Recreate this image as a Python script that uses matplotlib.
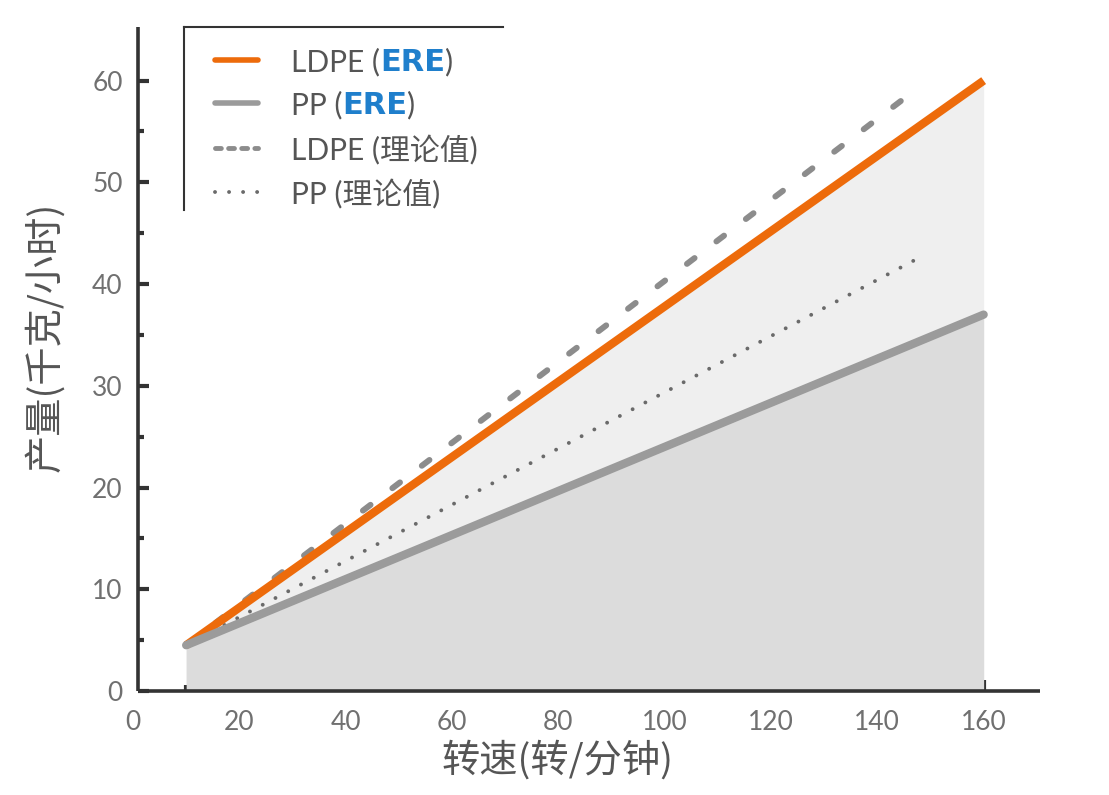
import matplotlib
matplotlib.use("Agg")
import matplotlib.pyplot as plt
from matplotlib.lines import Line2D
from matplotlib.ticker import FixedLocator

plt.rcParams['font.family'] = ['Noto Sans CJK SC', 'DejaVu Sans']

# ---- data ----
rpm_ere = [10, 160]
ldpe_ere = [4.5, 60]
pp_ere = [4.5, 37]
rpm_ldpe_theory = [10, 147.7]
ldpe_theory = [4.5, 59.3]
rpm_pp_theory = [10, 149]
pp_theory = [4.5, 42.9]

x_ticks = [0, 20, 40, 60, 80, 100, 120, 140, 160]
x_minor = [10, 30, 50, 70, 90, 110, 130, 150]
y_ticks = [0, 10, 20, 30, 40, 50, 60]
y_minor = [5, 15, 25, 35, 45, 55]
x_label = '转速(转/分钟)'
y_label = '产量(千克/小时)'
legend_names = ['LDPE (', 'PP (', 'LDPE (理论值)', 'PP (理论值)']

ORANGE = '#ED6B0B'
GRAY = '#9B9B9B'
DASH = '#8C8C8C'
DOT = '#6A6A6A'
BLUE = '#1F7FCC'
DARK = '#333333'
TXT = '#555555'
LAT_FONT = ['Lato', 'Noto Sans CJK SC', 'DejaVu Sans']

W, H = 1109, 795
fig = plt.figure(figsize=(W / 100, H / 100), dpi=100)
ax = fig.add_axes([133 / W, 1 - 691 / H, 907 / W, 664.3 / H])


def fx(px):
    return px / W


def fy(py):
    return 1 - py / H


ax.fill_between(rpm_ere, 0, ldpe_ere, color='#EFEFEF', lw=0, zorder=1)
ax.fill_between(rpm_ere, 0, pp_ere, color='#DCDCDC', lw=0, zorder=2)

ax.plot(rpm_pp_theory, pp_theory, color=DOT, lw=2.8, dashes=(0.01, 3.7),
        dash_capstyle='round', zorder=3)
ax.plot(rpm_ldpe_theory, ldpe_theory, color=DASH, lw=4.3, dashes=(1.6, 4.6),
        dash_capstyle='round', zorder=3)
ax.plot(rpm_ere, ldpe_ere, color=ORANGE, lw=6, solid_capstyle='butt', zorder=4)
ax.plot(rpm_ere, pp_ere, color=GRAY, lw=6, solid_capstyle='round', zorder=5)

ax.set_xlim(0, 170.6)
ax.set_ylim(0, 65.3)
for s in ['top', 'right']:
    ax.spines[s].set_visible(False)
for s in ['left', 'bottom']:
    ax.spines[s].set_linewidth(2.6)
    ax.spines[s].set_color(DARK)
    ax.spines[s].set_capstyle('butt')
ax.spines['left'].set_position(('data', 0.94))
ax.spines['bottom'].set_bounds(0.94, 170.6)

ax.set_xticks(x_ticks)
ax.set_yticks(y_ticks)
ax.xaxis.set_minor_locator(FixedLocator(x_minor))
ax.yaxis.set_minor_locator(FixedLocator(y_minor))
ax.tick_params(which='major', direction='in', length=8, width=3, color=DARK,
               labelsize=19, labelcolor='#707070')
ax.tick_params(which='minor', direction='in', length=4, width=3, color=DARK)
ax.tick_params(axis='x', which='both', pad=14)
ax.tick_params(axis='y', which='both', pad=11)
ax.xaxis.get_major_ticks()[0].tick1line.set_visible(False)
for lab in ax.get_xticklabels() + ax.get_yticklabels():
    lab.set_family(LAT_FONT)

fig.text(fx(557), fy(761), x_label, fontsize=27.5, color=TXT,
         ha='center', va='center')
fig.text(fx(45), fy(337), y_label, fontsize=27.5, color=TXT,
         ha='center', va='center', rotation=90)

# ---- manual legend ----
tf = fig.transFigure
rows = [60, 103, 148, 192]
styles = [
    dict(color=ORANGE, lw=4, solid_capstyle='round'),
    dict(color=GRAY, lw=4, solid_capstyle='round'),
    dict(color=DASH, lw=3.5, dashes=(1.2, 1.5), dash_capstyle='round'),
    dict(color=DOT, lw=2.8, dashes=(0.01, 3.6), dash_capstyle='round'),
]
for i, (py, st) in enumerate(zip(rows, styles)):
    fig.add_artist(Line2D([fx(215), fx(258)], [fy(py), fy(py)], transform=tf,
                          zorder=6, **st))
    t = fig.text(fx(291), fy(py), legend_names[i], fontsize=21.5, color=TXT,
                 va='center_baseline', ha='left', family=LAT_FONT)
    if i < 2:
        t2 = ax.annotate('ERE', xy=(1, 0), xycoords=t, va='bottom', ha='left',
                         fontsize=22, color=BLUE, fontweight='bold',
                         family=['DejaVu Sans'])
        ax.annotate(')', xy=(1, 0), xycoords=t2, va='bottom', ha='left',
                    fontsize=21.5, color=TXT, family=LAT_FONT)

fig.add_artist(Line2D([fx(184), fx(184)], [fy(210), fy(27)], transform=tf,
                      color=DARK, lw=1.5))
fig.add_artist(Line2D([fx(184), fx(503)], [fy(27), fy(27)], transform=tf,
                      color=DARK, lw=1.5))

fig.savefig('out.png', dpi=100)
